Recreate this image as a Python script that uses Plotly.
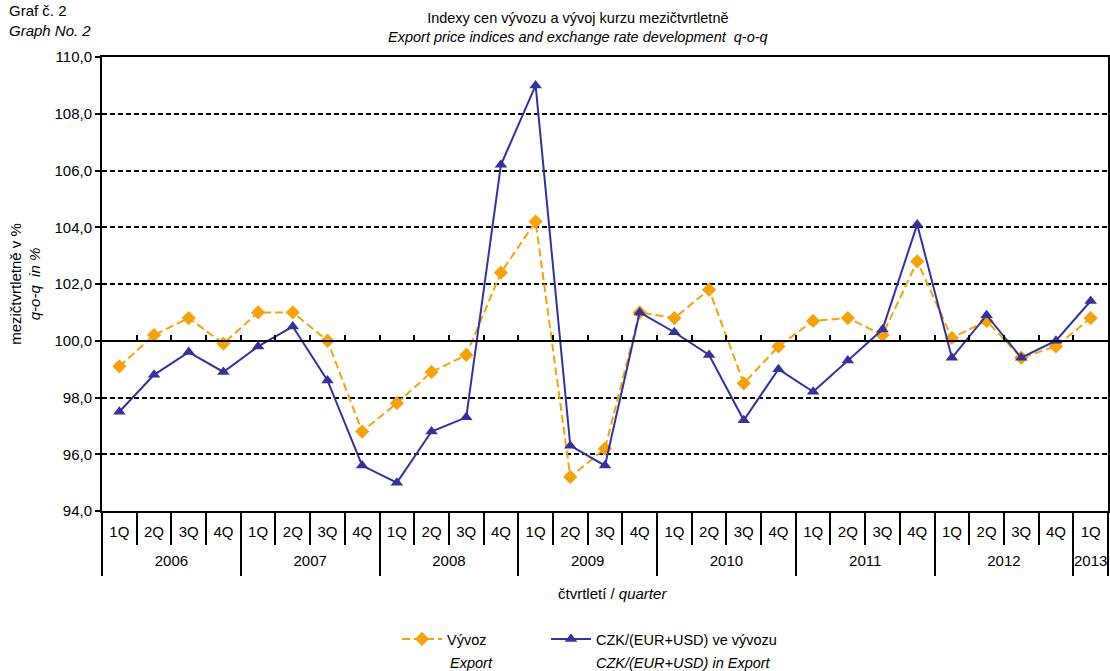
import plotly.graph_objects as go

# ---- data ----
quarters = ["1Q", "2Q", "3Q", "4Q"] * 7 + ["1Q"]
year_of_q = (["2006"] * 4 + ["2007"] * 4 + ["2008"] * 4 + ["2009"] * 4 +
             ["2010"] * 4 + ["2011"] * 4 + ["2012"] * 4 + ["2013"])
export_idx = [99.1, 100.2, 100.8, 99.9,
              101.0, 101.0, 100.0, 96.8,
              97.8, 98.9, 99.5, 102.4,
              104.2, 95.2, 96.2, 101.0,
              100.8, 101.8, 98.5, 99.8,
              100.7, 100.8, 100.2, 102.8,
              100.1, 100.7, 99.4, 99.8,
              100.8]
czk_idx = [97.5, 98.8, 99.6, 98.9,
           99.8, 100.5, 98.6, 95.6,
           95.0, 96.8, 97.3, 106.2,
           109.0, 96.3, 95.6, 101.0,
           100.3, 99.5, 97.2, 99.0,
           98.2, 99.3, 100.4, 104.1,
           99.4, 100.9, 99.4, 100.0,
           101.4]
series_names = ["Vývoz", "CZK/(EUR+USD) ve vývozu"]
series_names_en = ["Export", "CZK/(EUR+USD) in Export"]
y_ticks = [94, 96, 98, 100, 102, 104, 106, 108, 110]

# ---- derived positions from categories ----
n = len(quarters)
xi = list(range(n))
year_labels = []
for y in year_of_q:
    if y not in year_labels:
        year_labels.append(y)
year_centers = []
for y in year_labels:
    ids = [i for i, v in enumerate(year_of_q) if v == y]
    year_centers.append(sum(ids) / len(ids))
year_bounds = [-0.5] + [i - 0.5 for i in range(1, n) if year_of_q[i] != year_of_q[i - 1]] + [n - 0.5]
q_bounds = [k - 0.5 for k in range(n + 1)]
inner_bounds = q_bounds[1:-1]

FONT = "Liberation Sans"
ORANGE = "#F2A30F"
BLUE = "#333399"
xr = [-0.5, n - 0.5]
ymin, ymax = 94, 110
base_pos = (100 - ymin) / (ymax - ymin)

# plot-area geometry (pixels) used to place free text
L, R, T, B = 102, 1108, 57, 511
PW, PH = R - L, B - T


def px(x):
    return (x - L) / PW


def py(y):
    return (B - y) / PH


fig = go.Figure()
fig.add_trace(go.Scatter(
    x=xi, y=export_idx, mode="lines+markers", name=series_names[0],
    line=dict(color=ORANGE, width=2, dash="8px,4px"),
    marker=dict(symbol="diamond", size=11, color=ORANGE),
    xaxis="x", yaxis="y", legend="legend"))
fig.add_trace(go.Scatter(
    x=xi, y=czk_idx, mode="lines+markers", name=series_names[1],
    line=dict(color=BLUE, width=2),
    marker=dict(symbol="triangle-up", size=11, color=BLUE),
    xaxis="x", yaxis="y", legend="legend2"))
# empty helper traces so that the decoration axes are rendered
for ax in ["x2", "x3"]:
    fig.add_trace(go.Scatter(x=[None], y=[None], xaxis=ax, yaxis="y",
                             showlegend=False, hoverinfo="skip", mode="lines"))

tickfont = dict(family=FONT, size=15, color="black")
legfont = dict(family=FONT, size=14.5, color="black")

fig.update_layout(
    width=1110, height=671,
    paper_bgcolor="white", plot_bgcolor="white",
    margin=dict(l=L, r=1110 - R, t=T, b=671 - B),
    separators=", ",
    font=dict(family=FONT, size=14, color="black"),
    showlegend=True,
    xaxis=dict(
        range=xr, tickmode="array", tickvals=xi, ticktext=quarters,
        ticks="outside", ticklen=6, tickcolor="rgba(0,0,0,0)",
        tickfont=tickfont, showgrid=False, zeroline=False,
        showline=True, linecolor="black", linewidth=2, mirror=True,
        minor=dict(tickmode="array", tickvals=q_bounds, ticks="outside",
                   ticklen=32, tickwidth=2, tickcolor="black", showgrid=False),
        automargin=False, fixedrange=True),
    xaxis3=dict(
        range=xr, overlaying="x", anchor="y", side="bottom",
        tickmode="array", tickvals=year_centers, ticktext=year_labels,
        ticks="outside", ticklen=36, tickcolor="rgba(0,0,0,0)",
        tickfont=tickfont, showgrid=False, zeroline=False, showline=False,
        minor=dict(tickmode="array", tickvals=year_bounds, ticks="outside",
                   ticklen=64, tickwidth=2, tickcolor="black", showgrid=False),
        automargin=False, fixedrange=True),
    xaxis2=dict(
        range=xr, overlaying="x", anchor="free", position=base_pos,
        side="bottom", tickmode="array", tickvals=inner_bounds,
        ticks="inside", ticklen=5, tickwidth=2, tickcolor="black",
        showticklabels=False, showgrid=False, zeroline=False,
        showline=True, linecolor="black", linewidth=2,
        automargin=False, fixedrange=True),
    yaxis=dict(
        range=[ymin, ymax], tickmode="array", tickvals=y_ticks,
        tickformat=".1f", tickfont=tickfont,
        ticks="outside", ticklen=5, tickwidth=2, tickcolor="black",
        showgrid=True, gridcolor="black", gridwidth=2, griddash="5px,3px",
        zeroline=False, showline=True, linecolor="black", linewidth=2, mirror=True,
        title=dict(text="mezičtvrtletně v %<br><i>q-o-q  in %</i>",
                   font=dict(family=FONT, size=15, color="black"), standoff=10),
        automargin=False, fixedrange=True),
    legend=dict(orientation="h", x=px(397), xanchor="left",
                y=py(639), yanchor="middle", font=legfont,
                bgcolor="rgba(0,0,0,0)", itemwidth=40),
    legend2=dict(orientation="h", x=px(546), xanchor="left",
                 y=py(639), yanchor="middle", font=legfont,
                 bgcolor="rgba(0,0,0,0)", itemwidth=40),
)

annotations = [
    dict(text="Indexy cen vývozu a vývoj kurzu mezičtvrtletně<br><i>Export price indices and exchange rate development  q-o-q</i>",
         xref="paper", yref="paper", x=px(578), y=py(8), xanchor="center", yanchor="top",
         align="center", showarrow=False, font=dict(family=FONT, size=14.5, color="black")),
    dict(text="Graf č. 2<br><i>Graph No. 2</i>", xref="paper", yref="paper",
         x=px(7), y=py(0), xanchor="left", yanchor="top",
         align="left", showarrow=False, font=dict(family=FONT, size=15, color="black")),
    dict(text="čtvrtletí / <i>quarter</i>", xref="paper", yref="paper",
         x=px(612), y=py(593), xanchor="center", yanchor="middle",
         showarrow=False, font=dict(family=FONT, size=15, color="black")),
    dict(text="<i>" + series_names_en[0] + "</i>", xref="paper", yref="paper",
         x=px(471), y=py(663), xanchor="center", yanchor="middle",
         showarrow=False, font=legfont),
    dict(text="<i>" + series_names_en[1] + "</i>", xref="paper", yref="paper",
         x=px(683), y=py(663), xanchor="center", yanchor="middle",
         showarrow=False, font=legfont),
]
fig.update_layout(annotations=annotations)

fig.write_html("out.html", config={"displayModeBar": False},
               post_script="document.body.style.margin='0';document.body.style.overflow='hidden';")
